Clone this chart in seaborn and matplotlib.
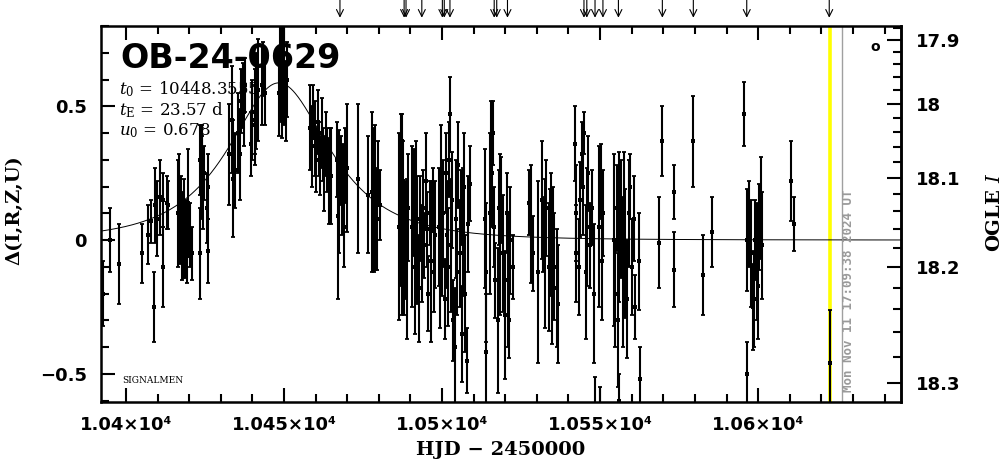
import numpy as np
import matplotlib
matplotlib.use("Agg")
import matplotlib.pyplot as plt
import matplotlib.ticker as mticker
import seaborn as sns

# light curve points: HJD-2450000, delta (mag), error
hjd = [10392.6, 10394.9, 10397.8, 10405.0, 10407.1, 10407.9, 10408.9, 10409.2, 10409.9, 10410.8, 10411.6, 10411.8, 10412.9, 10413.4,
       10416.6, 10416.9, 10417.2, 10417.4, 10417.7, 10417.9, 10418.1, 10418.4, 10418.7, 10419.0, 10419.3, 10419.7, 10420.1, 10420.8,
       10423.3, 10423.5, 10423.6, 10423.9, 10424.2, 10424.5, 10424.8, 10425.6, 10425.9, 10426.0,
       10432.7, 10433.4, 10433.9, 10434.5, 10435.5, 10436.1, 10436.5, 10437.0, 10437.4, 10437.8,
       10439.6, 10439.8, 10440.8, 10440.9, 10441.0, 10441.9, 10442.9, 10443.5, 10444.0,
       10448.3, 10448.7, 10449.0, 10449.4, 10449.8, 10450.1, 10450.5, 10451.0,
       10458.3, 10458.8, 10459.2, 10459.7, 10460.1, 10460.6, 10461.0, 10461.4, 10461.9, 10462.3, 10462.8, 10463.2, 10463.7, 10464.1, 10464.6, 10465.0,
       10466.8, 10467.2, 10467.5, 10467.9, 10468.3, 10468.6, 10469.0, 10469.3, 10470.0, 10473.5,
       10476.7, 10477.7, 10478.1, 10478.4, 10478.6, 10478.9, 10479.4, 10479.8, 10480.4,
       10486.3, 10486.9, 10487.2, 10487.3, 10487.5, 10488.0, 10488.4, 10488.8, 10489.1,
       10490.5, 10491.0, 10491.4, 10491.8, 10492.2, 10492.6, 10493.1, 10493.5, 10494.0, 10494.4, 10494.9, 10495.3, 10495.7, 10496.1, 10496.6, 10497.0, 10497.5, 10497.9,
       10498.9, 10499.3, 10499.7, 10500.1, 10500.4, 10500.8, 10501.1, 10501.5, 10501.9, 10502.2, 10502.6, 10502.9, 10503.3, 10503.6, 10504.1, 10504.4, 10504.8, 10505.2, 10505.6, 10506.0, 10506.3, 10506.7, 10507.1, 10507.4, 10507.8, 10508.2, 10508.9,
       10513.6, 10513.8, 10514.0,
       10515.2, 10515.6, 10515.9, 10516.2, 10516.5, 10516.8, 10517.8, 10517.9, 10518.3, 10518.8, 10519.4, 10519.9, 10520.4, 10520.8, 10521.2, 10521.6, 10522.4,
       10527.6, 10528.3, 10528.9, 10530.5, 10531.5, 10531.9, 10532.6, 10533.0, 10533.7, 10534.0, 10534.5, 10534.7, 10535.2, 10535.5, 10536.5, 10536.8,
       10542.2, 10542.3, 10542.4, 10543.3, 10543.5, 10544.3, 10544.6, 10545.0, 10545.4, 10545.8, 10546.3, 10546.8, 10547.3, 10548.0, 10548.4, 10549.5, 10549.9, 10550.2, 10550.6, 10551.0,
       10554.4, 10554.8, 10555.2, 10555.6, 10555.9, 10556.0, 10556.6, 10557.1, 10557.6, 10558.0, 10558.5, 10559.0, 10559.6, 10560.0, 10560.6, 10561.2, 10562.2, 10562.5,
       10568.5, 10569.7, 10573.5, 10573.5, 10579.5, 10582.5, 10585.5, 10595.5, 10596.4, 10596.6, 10597.2, 10597.8, 10598.3, 10598.6, 10599.0, 10599.5, 10600.1, 10600.4, 10600.8, 10601.1, 10610.3, 10611.5, 10622.6]

delta = [-0.20, 0.00, -0.09, -0.05, 0.02, 0.07, -0.25, 0.13, 0.08, 0.16, 0.15, -0.10, 0.14, 0.13,
         0.10, 0.15, 0.04, 0.08, -0.02, 0.06, 0.00, 0.10, -0.03, 0.03, -0.06, 0.14, 0.02, -0.05,
         0.30, -0.05, 0.22, 0.34, 0.27, 0.18, 0.25, 0.12, 0.20, -0.04,
         0.32, 0.45, 0.23, 0.26, 0.40, 0.32, 0.52, 0.54, 0.48, 0.58,
         0.36, 0.45, 0.48, 0.43, 0.52, 0.56, 0.58, 0.64, 0.55,
         0.55, 0.62, 0.70, 0.58, 0.75, 0.65, 0.52, 0.60,
         0.42, 0.35, 0.48, 0.38, 0.30, 0.44, 0.34, 0.28, 0.40, 0.32, 0.25, 0.36, 0.30, 0.22, 0.28, 0.24,
         0.30, 0.09, 0.18, 0.26, 0.14, 0.22, 0.05, 0.28, 0.27, 0.23,
         0.17, 0.18, 0.22, 0.12, 0.02, 0.16, 0.08, 0.25, 0.13,
         0.05, 0.15, -0.08, 0.37, 0.22, -0.10, 0.00, -0.07, 0.12,
         0.05, 0.14, -0.10, 0.20, 0.00, -0.18, 0.08, -0.05, 0.12, -0.02, 0.22, 0.04, -0.20, 0.10, -0.08, 0.15, -0.12, 0.02,
         0.05, -0.15, 0.18, -0.05, 0.10, -0.22, 0.25, 0.02, -0.10, 0.30, 0.47, -0.02, 0.15, -0.30, -0.40, 0.08, -0.12, 0.28, -0.05, 0.12, -0.35, 0.03, 0.20, -0.20, -0.45, 0.06, 0.21,
         0.08, -0.42, -0.12,
         0.10, 0.35, 0.25, 0.40, 0.05, -0.15, -0.30, 0.12, 0.02, 0.15, -0.05, -0.28, 0.10, -0.15, -0.30, 0.00, -0.10,
         0.14, 0.06, -0.05, -0.12, 0.15, 0.02, -0.05, 0.12, -0.10, 0.05, 0.02, -0.15, 0.08, -0.10, -0.18, -0.24,
         0.36, 0.10, -0.05, -0.10, 0.15, 0.32, 0.20, 0.40, -0.12, 0.05, 0.25, -0.02, 0.12, -0.20, -0.66, 0.05, -0.68, 0.22, -0.08, 0.10,
         0.00, -0.20, 0.12, -0.30, 0.05, -0.60, 0.08, -0.12, 0.15, -0.05, -0.22, 0.10, 0.20, -0.10, 0.08, -0.25, -0.08, -0.52,
         -0.01, 0.37, 0.18, -0.11, 0.37, -0.13, 0.03, 0.47, 0.00, -0.50, 0.06, -0.05, -0.25, -0.22, 0.00, -0.08, -0.17, 0.05, 0.12, -0.02, 0.22, 0.06, -0.46]

err = [0.12, 0.12, 0.15, 0.11, 0.11, 0.08, 0.13, 0.14, 0.14, 0.14, 0.10, 0.15, 0.10, 0.09,
       0.20, 0.17, 0.13, 0.16, 0.13, 0.12, 0.14, 0.13, 0.11, 0.12, 0.10, 0.20, 0.12, 0.10,
       0.13, 0.17, 0.14, 0.09, 0.12, 0.14, 0.10, 0.13, 0.12, 0.12,
       0.19, 0.20, 0.22, 0.14, 0.15, 0.17, 0.12, 0.12, 0.13, 0.10,
       0.12, 0.15, 0.16, 0.15, 0.18, 0.19, 0.15, 0.10, 0.12,
       0.16, 0.18, 0.14, 0.20, 0.12, 0.22, 0.15, 0.14,
       0.16, 0.15, 0.10, 0.14, 0.12, 0.12, 0.10, 0.11, 0.13, 0.10, 0.14, 0.12, 0.12, 0.16, 0.14, 0.18,
       0.14, 0.31, 0.23, 0.13, 0.12, 0.14, 0.15, 0.14, 0.24, 0.28,
       0.22, 0.30, 0.20, 0.18, 0.14, 0.27, 0.19, 0.12, 0.13,
       0.35, 0.32, 0.20, 0.10, 0.15, 0.18, 0.22, 0.30, 0.20,
       0.30, 0.20, 0.25, 0.17, 0.24, 0.20, 0.16, 0.18, 0.14, 0.12, 0.18, 0.14, 0.14, 0.12, 0.30, 0.12, 0.15, 0.20,
       0.22, 0.18, 0.25, 0.16, 0.20, 0.15, 0.15, 0.20, 0.22, 0.14, 0.14, 0.25, 0.18, 0.15, 0.22, 0.22, 0.16, 0.16, 0.20, 0.14, 0.18, 0.24, 0.20, 0.22, 0.12, 0.18, 0.14,
       0.26, 0.22, 0.26,
       0.30, 0.17, 0.20, 0.12, 0.15, 0.14, 0.27, 0.14, 0.30, 0.16, 0.22, 0.24, 0.15, 0.25, 0.14, 0.20, 0.12,
       0.12, 0.22, 0.14, 0.34, 0.22, 0.14, 0.28, 0.18, 0.24, 0.14, 0.23, 0.24, 0.12, 0.20, 0.22, 0.22,
       0.14, 0.18, 0.18, 0.18, 0.14, 0.12, 0.18, 0.08, 0.25, 0.22, 0.14, 0.16, 0.14, 0.26, 0.15, 0.30, 0.13, 0.14, 0.22, 0.16,
       0.32, 0.20, 0.16, 0.25, 0.28, 0.10, 0.22, 0.28, 0.18, 0.24, 0.22, 0.20, 0.12, 0.18, 0.16, 0.12, 0.18, 0.12,
       0.17, 0.13, 0.10, 0.14, 0.17, 0.15, 0.13, 0.12, 0.19, 0.12, 0.16, 0.20, 0.16, 0.18, 0.15, 0.22, 0.20, 0.16, 0.19, 0.20, 0.15, 0.10, 0.20]

# alert / observation markers along the top
arrow_hjd = [10467.7, 10488.0, 10488.6, 10493.6, 10500.1, 10500.7, 10502.5, 10516.5, 10517.3, 10520.7,
             10544.9, 10545.8, 10548.4, 10550.9, 10555.8, 10569.7, 10579.5, 10596.4, 10622.5]

# fit parameters
t0 = 10448.3555
tE = 23.57
u0 = 0.678
now_hjd = 10622.7
stamp_hjd = 10626.5

# baseline magnitude and source fraction for the OGLE I axis
I0 = 18.172
fsrc = 0.2865

xlim = (10392.1, 10645.2)
ylim = (-0.605, 0.80)


def d2m(d):
    d = np.asarray(d, dtype=float)
    arg = np.maximum(1 + fsrc * (10 ** (0.4 * d) - 1), 1e-6)
    return I0 - 2.5 * np.log10(arg)


def m2d(m):
    m = np.asarray(m, dtype=float)
    arg = np.maximum(1 + (10 ** (-0.4 * (m - I0)) - 1) / fsrc, 1e-6)
    return 2.5 * np.log10(arg)


sns.set_style("ticks")
plt.rcParams['font.family'] = ['DejaVu Sans']
plt.rcParams['mathtext.fontset'] = 'dejavuserif'
for key in ['text.color', 'axes.labelcolor', 'xtick.color', 'ytick.color', 'axes.edgecolor']:
    plt.rcParams[key] = 'black'

fig = plt.figure(figsize=(10.04, 4.59), dpi=100)
ax = fig.add_axes([0.1006, 0.1242, 0.7968, 0.8192])

ax.axvline(now_hjd, color='#ffff00', lw=2.6, zorder=1)
ax.axvline(stamp_hjd, color='#a0a0a0', lw=1.0, zorder=1)

# model curve from the fit parameters
tm = np.linspace(xlim[0], xlim[1], 800)
u = np.sqrt(u0 ** 2 + ((tm - t0) / tE) ** 2)
amp = (u ** 2 + 2) / (u * np.sqrt(u ** 2 + 4))
sns.lineplot(x=tm, y=2.5 * np.log10(amp), ax=ax, color='k', lw=0.7, zorder=2)

ax.errorbar(hjd, delta, yerr=err, fmt='none', ecolor='k', elinewidth=1.5,
            capsize=1.7, capthick=1.3, zorder=3)
sns.scatterplot(x=hjd, y=delta, ax=ax, color='k', marker='s', s=6, linewidth=0, zorder=4)

ax.set_xlim(*xlim)
ax.set_ylim(*ylim)

ax.xaxis.set_major_locator(mticker.MultipleLocator(50))
ax.xaxis.set_minor_locator(mticker.MultipleLocator(10))
ax.yaxis.set_major_locator(mticker.MultipleLocator(0.5))
ax.yaxis.set_minor_locator(mticker.MultipleLocator(0.1))
ax.xaxis.set_major_formatter(mticker.FuncFormatter(lambda v, p: f"{v / 1e4:g}×10⁴"))
ax.yaxis.set_major_formatter(mticker.FuncFormatter(lambda v, p: f"{v:g}".replace('-', '−') if abs(v) > 1e-9 else "0"))

ax.tick_params(axis='x', which='both', direction='in', top=True, bottom=True, width=1.5, pad=10,
               labelsize=13)
ax.tick_params(axis='y', which='both', direction='in', left=True, right=False, width=1.5, pad=10,
               labelsize=13)
ax.tick_params(which='major', length=10)
ax.tick_params(which='minor', length=5.5)
for lab in ax.get_xticklabels() + ax.get_yticklabels():
    lab.set_fontweight('bold')
for sp in ax.spines.values():
    sp.set_linewidth(1.8)

sec = ax.secondary_yaxis('right', functions=(d2m, m2d))
sec.yaxis.set_major_locator(mticker.FixedLocator([17.9, 18.0, 18.1, 18.2, 18.3]))
sec.yaxis.set_minor_locator(mticker.MultipleLocator(0.02))
sec.yaxis.set_major_formatter(mticker.FuncFormatter(lambda v, p: f"{v:g}"))
sec.tick_params(which='both', direction='in', width=1.5, pad=11, labelsize=13)
sec.tick_params(which='major', length=10)
sec.tick_params(which='minor', length=5.5)
for lab in sec.get_yticklabels():
    lab.set_fontweight('bold')
sec.spines['right'].set_linewidth(1.8)

ax.set_xlabel("HJD − 2450000", family='DejaVu Serif', fontweight='bold', fontsize=14)
ax.xaxis.set_label_coords(0.499, -0.105)
ax.xaxis.label.set_va('top')
ax.set_ylabel("Δ(I,R,Z,U)", family='DejaVu Serif', fontweight='bold', fontsize=14)
ax.yaxis.set_label_coords(-0.097, 0.51)
fig.text(0.991, 0.536, r"OGLE $I$", rotation=90, ha='center', va='center',
         family='DejaVu Serif', fontweight='bold', fontsize=14)

ax.text(0.024, 0.888, "OB-24-0629", transform=ax.transAxes, fontsize=24, fontweight='bold',
        va='baseline', zorder=5)
ax.text(0.0225, 0.819, r"$t_0$ = 10448.3555", transform=ax.transAxes, family='DejaVu Serif',
        fontsize=12, va='baseline', zorder=5)
ax.text(0.0225, 0.763, r"$t_{\rm E}$ = 23.57 d", transform=ax.transAxes, family='DejaVu Serif',
        fontsize=12, va='baseline', zorder=5)
ax.text(0.0225, 0.710, r"$u_0$ = 0.678", transform=ax.transAxes, family='DejaVu Serif',
        fontsize=12, va='baseline', zorder=5)
ax.text(0.026, 0.05, "SIGNALMEN", transform=ax.transAxes, family='DejaVu Serif', fontsize=6.5,
        va='baseline')
ax.text(0.9675, 0.944, "o", transform=ax.transAxes, fontsize=10, fontweight='bold',
        ha='center', va='center')
ax.text(0.934, 0.027, "Mon Nov 11 17:09:38 2024 UT", transform=ax.transAxes, rotation=90,
        ha='center', va='bottom', family='DejaVu Sans Mono', fontweight='bold', fontsize=9,
        color='#9a9a9a')

for t in arrow_hjd:
    ax.annotate('', xy=(t, 1.022), xycoords=('data', 'axes fraction'),
                xytext=(t, 1.07), textcoords=('data', 'axes fraction'),
                arrowprops=dict(arrowstyle='->,head_length=0.5,head_width=0.25', lw=0.8, color='k',
                                shrinkA=0, shrinkB=0),
                annotation_clip=False)

fig.savefig("out.png", dpi=100)
